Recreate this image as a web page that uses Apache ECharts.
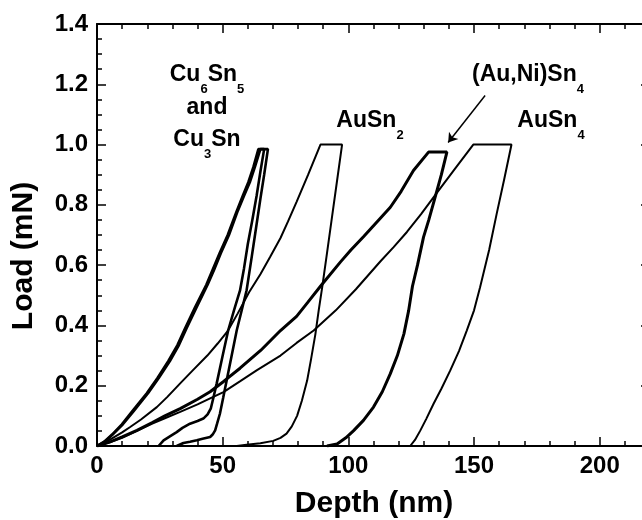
<!DOCTYPE html>
<html>
<head>
<meta charset="utf-8">
<script src="https://cdn.jsdelivr.net/npm/echarts@6/dist/echarts.min.js"></script>
<style>
html,body{margin:0;padding:0;background:#fff;}
#chart{width:642px;height:520px;}
</style>
</head>
<body>
<div id="chart"></div>
<script>
// ---- Data ----
const xTickLabels = [0, 50, 100, 150, 200];
const yTickLabels = ['0.0', '0.2', '0.4', '0.6', '0.8', '1.0', '1.2', '1.4'];

const cu6sn5Depth = [0, 3, 6, 9.9, 14, 19.8, 24, 28.4, 32, 35, 39, 43.5, 46, 48.8, 52, 55.6, 58, 60.2, 62.2, 64.2, 66.5, 65, 63.5, 61.8, 60, 58.5, 56.9, 54.5, 52.2, 50, 47.6, 46.3, 45.3, 44, 42.3, 40, 37, 34, 31.7, 29, 26.5, 24.5];
const cu6sn5Load  = [0, 0.015, 0.038, 0.072, 0.115, 0.175, 0.225, 0.282, 0.335, 0.39, 0.46, 0.535, 0.585, 0.64, 0.7, 0.78, 0.83, 0.875, 0.925, 0.985, 0.985, 0.91, 0.83, 0.75, 0.67, 0.59, 0.516, 0.45, 0.384, 0.3, 0.207, 0.16, 0.125, 0.105, 0.091, 0.083, 0.074, 0.06, 0.046, 0.032, 0.019, 0];

const cu3snDepth = [0, 3, 6, 10.3, 14.5, 20.3, 24.5, 29, 32.6, 35.6, 39.6, 44, 46.6, 49.3, 52.5, 56, 58.5, 60.8, 62.8, 65, 68, 66.5, 65, 63.3, 61.6, 59.5, 57.5, 55.6, 53.5, 51.6, 50.2, 48.9, 47.8, 47, 46, 45, 42, 39.7, 37, 34.4, 31.7];
const cu3snLoad  = [0, 0.014, 0.036, 0.072, 0.115, 0.175, 0.225, 0.282, 0.335, 0.39, 0.46, 0.535, 0.585, 0.64, 0.7, 0.78, 0.83, 0.875, 0.925, 0.985, 0.985, 0.9, 0.82, 0.725, 0.63, 0.516, 0.448, 0.384, 0.297, 0.218, 0.16, 0.107, 0.075, 0.052, 0.038, 0.03, 0.024, 0.019, 0.014, 0.01, 0];

const ausn2Depth = [0, 5, 10, 13.2, 17.5, 23.8, 28, 33, 38, 43.9, 48, 51.9, 56, 60.5, 65, 68.8, 73, 76, 79.4, 84, 88.9, 97.5, 95.5, 93.5, 91.5, 89.6, 88.2, 86.9, 85.2, 83.6, 81.5, 79.6, 77.5, 75.4, 73, 70.1, 65, 59.5, 55.6];
const ausn2Load  = [0, 0.02, 0.045, 0.063, 0.088, 0.129, 0.163, 0.207, 0.25, 0.3, 0.34, 0.38, 0.44, 0.51, 0.57, 0.626, 0.69, 0.745, 0.81, 0.9, 1.0, 1.0, 0.88, 0.76, 0.64, 0.527, 0.45, 0.372, 0.29, 0.217, 0.15, 0.1, 0.065, 0.041, 0.027, 0.017, 0.009, 0.004, 0];

const auniSn4Depth = [0, 5, 10, 15.9, 22, 27, 33.1, 40, 45, 50.5, 56.9, 65.1, 73, 79.4, 84, 88.9, 96.8, 101, 106.1, 111, 116.7, 121, 125.9, 131.9, 139.2, 137, 134.5, 132, 129.9, 127.5, 125.5, 124, 122.1, 119.5, 116.7, 113.5, 110, 106, 102.1, 99, 95.5, 91.5];
const auniSn4Load  = [0, 0.013, 0.03, 0.052, 0.078, 0.1, 0.124, 0.155, 0.18, 0.215, 0.258, 0.317, 0.383, 0.43, 0.478, 0.53, 0.61, 0.65, 0.695, 0.74, 0.792, 0.845, 0.914, 0.975, 0.975, 0.9, 0.825, 0.75, 0.693, 0.6, 0.53, 0.45, 0.372, 0.3, 0.24, 0.18, 0.129, 0.085, 0.051, 0.027, 0.007, 0];

const ausn4Depth = [0, 5, 10, 15.9, 22, 27, 33.1, 40, 45, 50.3, 57, 63.5, 73, 79.4, 86.2, 95, 103, 112.7, 118, 123.3, 129, 135.2, 142, 149.7, 164.9, 162, 159, 156, 152.4, 150, 147.1, 144, 140.5, 137, 133.9, 131, 128.6, 126.5, 124.6];
const ausn4Load  = [0, 0.012, 0.027, 0.05, 0.074, 0.092, 0.113, 0.138, 0.158, 0.179, 0.215, 0.251, 0.3, 0.342, 0.383, 0.45, 0.52, 0.612, 0.66, 0.71, 0.77, 0.84, 0.915, 1.0, 1.0, 0.885, 0.77, 0.65, 0.527, 0.45, 0.383, 0.315, 0.25, 0.19, 0.14, 0.09, 0.051, 0.02, 0];

// arrow annotation (data coordinates): from label towards the (Au,Ni)Sn4 curve
const arrowFrom = [154.4, 1.163];
const arrowTo   = [139.7, 1.007];

// ---- Chart ----
const FONT = '"Liberation Sans", Arial, Helvetica, sans-serif';
const zip = (a, b) => a.map((v, i) => [v, b[i]]);
const chart = echarts.init(document.getElementById('chart'), null, {renderer: 'canvas'});

function xAx(pos, interval, tickLen, showLine, showLabel) {
  return {
    type: 'value', position: pos, min: 0, max: 220, interval: interval,
    axisLine: {show: showLine, onZero: false, lineStyle: {color: '#000', width: 2}},
    axisTick: {show: true, inside: true, length: tickLen, lineStyle: {color: '#000', width: 1.5}},
    minorTick: {show: false},
    splitLine: {show: false},
    axisLabel: {
      show: showLabel, margin: 8, color: '#000', fontSize: 24, fontWeight: 'bold', fontFamily: FONT,
      showMaxLabel: false,
      formatter: v => (xTickLabels.indexOf(v) >= 0 ? String(v) : '')
    }
  };
}
function yAx(pos, interval, tickLen, showLine, showLabel) {
  return {
    type: 'value', position: pos, min: 0, max: 1.4, interval: interval,
    axisLine: {show: showLine, onZero: false, lineStyle: {color: '#000', width: 2}},
    axisTick: {show: true, inside: true, length: tickLen, lineStyle: {color: '#000', width: 1.5}},
    minorTick: {show: false},
    splitLine: {show: false},
    axisLabel: {
      show: showLabel, margin: 9, color: '#000', fontSize: 24, fontWeight: 'bold', fontFamily: FONT,
      formatter: v => {
        const s = v.toFixed(1);
        return yTickLabels.indexOf(s) >= 0 ? s : '';
      }
    }
  };
}

const richStyles = {
  m: {fontSize: 23, fontWeight: 'bold', fontFamily: FONT, fill: '#000', lineHeight: 26, verticalAlign: 'top'},
  s: {fontSize: 13, fontWeight: 'bold', fontFamily: FONT, fill: '#000', padding: [20, 0, 0, 0], verticalAlign: 'top'}
};
function label(text, cx, top) {
  return {
    type: 'text', x: cx, y: top, silent: true,
    style: {text: text, align: 'center', verticalAlign: 'top', rich: richStyles, fill: '#000'}
  };
}

function lineSeries(name, depth, load, width, extra) {
  return Object.assign({
    name: name, type: 'line', xAxisIndex: 0, yAxisIndex: 0,
    data: zip(depth, load), showSymbol: false, symbol: 'none', smooth: false,
    lineStyle: {color: '#000', width: width}, emphasis: {disabled: true}, z: 3
  }, extra || {});
}

const option = {
  animation: false,
  backgroundColor: '#fff',
  grid: {left: 97, top: 24, right: -8, bottom: 74, containLabel: false, outerBoundsMode: 'none'},
  xAxis: [
    xAx('bottom', 50, 9, true, true),
    xAx('bottom', 10, 5, false, false),
    xAx('top', 50, 9, true, false),
    xAx('top', 10, 5, false, false)
  ],
  yAxis: [
    yAx('left', 0.2, 9, true, true),
    yAx('left', 0.05, 5, false, false),
    yAx('right', 0.2, 9, true, false),
    yAx('right', 0.05, 5, false, false)
  ],
  series: [
    lineSeries('Cu6Sn5', cu6sn5Depth, cu6sn5Load, 2.6),
    lineSeries('Cu3Sn', cu3snDepth, cu3snLoad, 2.6),
    lineSeries('AuSn2', ausn2Depth, ausn2Load, 2),
    lineSeries('(Au,Ni)Sn4', auniSn4Depth, auniSn4Load, 3, {
      markLine: {
        silent: true, animation: false,
        symbol: ['none', 'arrow'], symbolSize: 9,
        label: {show: false},
        lineStyle: {color: '#000', width: 1.5, type: 'solid'},
        emphasis: {disabled: true},
        data: [[{coord: arrowFrom}, {coord: arrowTo}]]
      }
    }),
    lineSeries('AuSn4', ausn4Depth, ausn4Load, 2)
  ],
  graphic: [
    {type: 'text', silent: true, x: 24, y: 256, rotation: Math.PI / 2,
     style: {text: 'Load (mN)', align: 'center', verticalAlign: 'middle', fill: '#000',
             font: 'bold 30px ' + FONT}},
    {type: 'text', silent: true, x: 374, y: 504,
     style: {text: 'Depth (nm)', align: 'center', verticalAlign: 'middle', fill: '#000',
             font: 'bold 30px ' + FONT}},
    label('{m|Cu}{s|6}{m|Sn}{s|5}', 207, 63),
    label('{m|and}', 207, 96),
    label('{m|Cu}{s|3}{m|Sn}', 207, 128),
    label('{m|AuSn}{s|2}', 370, 109),
    label('{m|(Au,Ni)Sn}{s|4}', 528, 63),
    label('{m|AuSn}{s|4}', 551, 109)
  ]
};
chart.setOption(option);
</script>
</body>
</html>
